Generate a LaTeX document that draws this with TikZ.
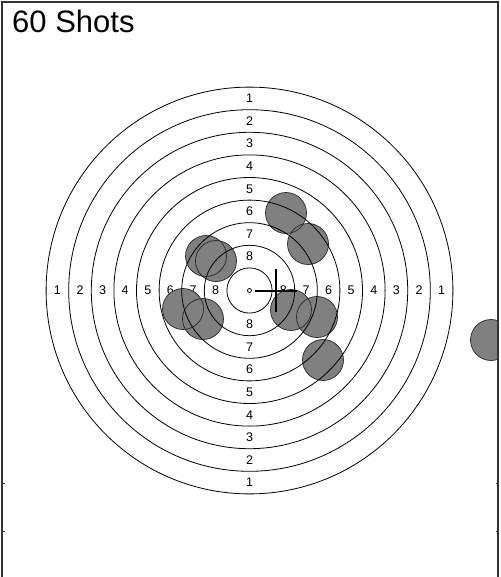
\documentclass[tikz,border=0pt]{standalone}
\usepackage{fontspec}
\setmainfont{Liberation Sans}
\definecolor{shotgray}{HTML}{808080}
\definecolor{framegray}{HTML}{333333}
\begin{document}
\begin{tikzpicture}[x=1pt,y=-1pt,
  ring/.style={draw=black,line width=0.8pt},
  lab/.style={inner sep=0pt,font=\fontsize{12.5}{14}\selectfont},
  shotfill/.style={fill=shotgray},
  shotline/.style={draw=black!85,line width=0.7pt},
  frameline/.style={draw=framegray,line width=2pt},
  crossline/.style={draw=black,line width=2.2pt},
  tickline/.style={draw=framegray,line width=1pt}]
\useasboundingbox (0,0) rectangle (500,577);
\coordinate (c) at (249.5,290.5);
% title
\node[anchor=base west,inner sep=0pt,font=\fontsize{31}{37}\selectfont] (title) at (12,33) {60 Shots};
% ring labels
\foreach \k in {1,...,8}{
  \pgfmathsetmacro\r{(9.5-\k)*22.6}
  \pgfmathsetmacro\yt{290.5-\r}
  \pgfmathsetmacro\yb{290.5+\r}
  \pgfmathsetmacro\xl{249.5-\r}
  \pgfmathsetmacro\xr{249.5+\r}
  \node[lab] (t\k) at (249.5,\yt) {\k};
  \node[lab] (b\k) at (249.5,\yb) {\k};
  \node[lab] (l\k) at (\xl,290.5) {\k};
  \node[lab] (r\k) at (\xr,290.5) {\k};
}
% shots: fills then outlines
\foreach \x/\y in {286/213,308/244,206/256,216/261,183/309,203/319,291/310,317/317,323/360}
  \fill[shotfill] (\x,\y) circle (20.5pt);
\foreach \x/\y in {286/213,308/244,206/256,216/261,183/309,203/319,291/310,317/317,323/360}
  \draw[shotline] (\x,\y) circle (20.5pt);
\begin{scope}
  \clip (0,0) rectangle (497,577);
  \fill[shotfill] (491,340) circle (20.5pt);
  \draw[shotline] (491,340) circle (20.5pt);
\end{scope}
% rings
\foreach \j in {1,...,9}{
  \pgfmathsetmacro\rr{\j*22.6}
  \draw[ring] (c) circle (\rr pt);
}
\draw[ring] (c) circle (2pt);
% crosshair
\coordinate (hl) at (255,291);
\coordinate (hr) at (297,291);
\coordinate (vt) at (276,269);
\coordinate (vb) at (276,312);
\draw[crossline] (hl) -- (hr);
\draw[crossline] (vt) -- (vb);
% frame
\coordinate (fl) at (2,577);
\coordinate (ftl) at (2,2);
\coordinate (ftr) at (498,2);
\coordinate (fr) at (498,577);
\draw[frameline] (fl) -- (ftl) -- (ftr) -- (fr);
\coordinate (lt1a) at (2,483); \coordinate (lt1b) at (4.5,483);
\coordinate (lt2a) at (2,531); \coordinate (lt2b) at (4.5,531);
\coordinate (rt1a) at (498,483); \coordinate (rt1b) at (495.5,483);
\coordinate (rt2a) at (498,531); \coordinate (rt2b) at (495.5,531);
\draw[tickline] (lt1a) -- (lt1b);
\draw[tickline] (lt2a) -- (lt2b);
\draw[tickline] (rt1a) -- (rt1b);
\draw[tickline] (rt2a) -- (rt2b);
\end{tikzpicture}
\end{document}
